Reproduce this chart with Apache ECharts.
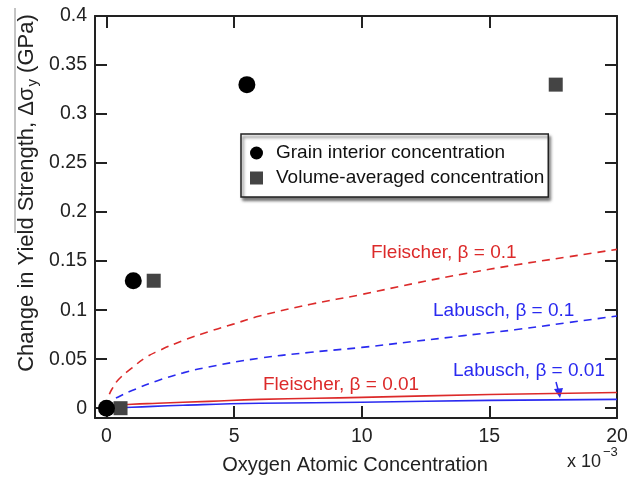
<!DOCTYPE html>
<html>
<head>
<meta charset="utf-8">
<script src="https://cdn.jsdelivr.net/npm/echarts@6/dist/echarts.min.js"></script>
<style>
html,body{margin:0;padding:0;background:#fff;}
#c{width:636px;height:479px;}
</style>
</head>
<body>
<div id="c"></div>
<script>
// ---- data (oxygen concentration in units of 1e-3, strength change in GPa) ----
const grainX = [0, 1.05, 5.5];
const grainY = [0, 0.13, 0.33];
const volX = [0.55, 1.85, 17.6];
const volY = [0, 0.13, 0.33];

const fleischer01X = [0, 0.1, 0.25, 0.5, 1, 1.5, 2, 3, 4, 5, 6, 8, 10, 12, 14, 16, 18, 20];
const fleischer01Y = [0, 0.013, 0.021, 0.03, 0.041, 0.051, 0.058, 0.069, 0.078, 0.086, 0.094, 0.106, 0.116, 0.127, 0.137, 0.146, 0.154, 0.162];
const labusch01X = [0, 0.25, 0.5, 1, 2, 3, 4, 6, 8, 10, 12, 14, 16, 18, 20];
const labusch01Y = [0, 0.008, 0.012, 0.018, 0.028, 0.036, 0.042, 0.051, 0.057, 0.062, 0.068, 0.074, 0.080, 0.087, 0.094];
const fleischer001X = [0, 0.5, 1, 2, 4, 6, 10, 15, 20];
const fleischer001Y = [0, 0.003, 0.004, 0.005, 0.007, 0.009, 0.011, 0.014, 0.016];
const labusch001X = [0, 1, 3, 6, 10, 15, 20];
const labusch001Y = [0, 0.001, 0.003, 0.005, 0.006, 0.008, 0.009];

const xTicks = [0, 5, 10, 15, 20];
const yTicks = [0, 0.05, 0.1, 0.15, 0.2, 0.25, 0.3, 0.35, 0.4];
const yTickLabels = ['0', '0.05', '0.1', '0.15', '0.2', '0.25', '0.3', '0.35', '0.4'];

const zip = (xs, ys) => xs.map((x, i) => [x, ys[i]]);

const RED = '#dc2a2a';
const BLUE = '#2a2af0';
const FRAME = '#222';
const FONT = 'Liberation Sans';

const chart = echarts.init(document.getElementById('c'), null, {renderer: 'canvas'});

const baseX = {
  type: 'value', min: -0.45, max: 20,
  splitLine: {show: false},
  axisLine: {show: true, onZero: false, lineStyle: {color: FRAME, width: 2}},
  axisTick: {show: true, inside: true, length: 12, customValues: xTicks, lineStyle: {color: FRAME, width: 2}},
};
const baseY = {
  type: 'value', min: -0.01, max: 0.4,
  splitLine: {show: false},
  axisLine: {show: true, onZero: false, lineStyle: {color: FRAME, width: 2}},
  axisTick: {show: true, inside: true, length: 12, customValues: yTicks, lineStyle: {color: FRAME, width: 2}},
};

const option = {
  backgroundColor: '#fff',
  animation: false,
  textStyle: {fontFamily: FONT},
  grid: {left: 95, right: 19, top: 16, bottom: 61, containLabel: false, outerBoundsMode: 'none'},
  xAxis: [
    Object.assign({}, baseX, {
      position: 'bottom',
      axisLabel: {show: true, customValues: xTicks, margin: 9, fontSize: 19.5, color: '#222', fontFamily: FONT}
    }),
    Object.assign({}, baseX, {position: 'top', axisLabel: {show: false}})
  ],
  yAxis: [
    Object.assign({}, baseY, {
      position: 'left',
      axisLabel: {show: true, customValues: yTicks, margin: 8, fontSize: 19.5, color: '#222', fontFamily: FONT,
        formatter: v => { const i = yTicks.findIndex(t => Math.abs(t - v) < 1e-9); return i >= 0 ? yTickLabels[i] : ''; }}
    }),
    Object.assign({}, baseY, {position: 'right', axisLabel: {show: false}})
  ],
  legend: {
    orient: 'vertical',
    left: 241, top: 134,
    padding: [8, 4, 8, 9],
    itemGap: 3,
    itemWidth: 13, itemHeight: 13,
    backgroundColor: '#fff',
    borderColor: '#222', borderWidth: 1.5, borderRadius: 0,
    shadowColor: 'rgba(0,0,0,0.55)', shadowBlur: 3, shadowOffsetX: 2, shadowOffsetY: 3,
    textStyle: {fontSize: 19, lineHeight: 22, color: '#111', fontFamily: FONT, padding: [0, 0, 0, 8]},
    data: ['Grain interior concentration', 'Volume-averaged concentration'],
    selectedMode: false
  },
  series: [
    {name: 'Fleischer β = 0.1', type: 'line', smooth: true, symbol: 'none', data: zip(fleischer01X, fleischer01Y),
      lineStyle: {color: RED, width: 1.6, type: [8, 6]}, z: 2},
    {name: 'Labusch β = 0.1', type: 'line', smooth: true, symbol: 'none', data: zip(labusch01X, labusch01Y),
      lineStyle: {color: BLUE, width: 1.6, type: [8, 6]}, z: 2},
    {name: 'Fleischer β = 0.01', type: 'line', smooth: true, symbol: 'none', data: zip(fleischer001X, fleischer001Y),
      lineStyle: {color: RED, width: 1.6}, z: 2},
    {name: 'Labusch β = 0.01', type: 'line', smooth: true, symbol: 'none', data: zip(labusch001X, labusch001Y),
      lineStyle: {color: BLUE, width: 1.6}, z: 2},
    {name: 'Grain interior concentration', type: 'scatter', symbol: 'circle', symbolSize: 17,
      data: zip(grainX, grainY), itemStyle: {color: '#000', opacity: 1}, z: 5},
    {name: 'Volume-averaged concentration', type: 'scatter', symbol: 'rect', symbolSize: 14,
      data: zip(volX, volY), itemStyle: {color: '#444', opacity: 1}, z: 4}
  ],
  graphic: [
    {type: 'line', shape: {x1: 15, y1: 8, x2: 15, y2: 233}, style: {stroke: '#888', lineWidth: 1}},
    {type: 'text', x: 27, y: 193, rotation: Math.PI / 2,
      style: {text: 'Change in Yield Strength, Δσ{sub|y} (GPa)', fontSize: 22, fontFamily: FONT, fill: '#222',
        align: 'center', verticalAlign: 'middle',
        rich: {sub: {fontSize: 15, fontFamily: FONT, fill: '#222', padding: [12, 0, 0, 1]}}}},
    {type: 'text', x: 355, y: 465,
      style: {text: 'Oxygen Atomic Concentration', fontSize: 20, fontFamily: FONT, fill: '#222', align: 'center', verticalAlign: 'middle'}},
    {type: 'text', x: 567, y: 462,
      style: {text: 'x 10', fontSize: 18, fontFamily: FONT, fill: '#222', align: 'left', verticalAlign: 'middle'}},
    {type: 'text', x: 603, y: 452,
      style: {text: '−3', fontSize: 13, fontFamily: FONT, fill: '#222', align: 'left', verticalAlign: 'middle'}},
    {type: 'text', x: 371, y: 253,
      style: {text: 'Fleischer, β = 0.1', fontSize: 19, fontFamily: FONT, fill: RED, align: 'left', verticalAlign: 'middle'}},
    {type: 'text', x: 433, y: 311,
      style: {text: 'Labusch, β = 0.1', fontSize: 19, fontFamily: FONT, fill: BLUE, align: 'left', verticalAlign: 'middle'}},
    {type: 'text', x: 263, y: 385,
      style: {text: 'Fleischer, β = 0.01', fontSize: 19, fontFamily: FONT, fill: RED, align: 'left', verticalAlign: 'middle'}},
    {type: 'text', x: 453, y: 371,
      style: {text: 'Labusch, β = 0.01', fontSize: 19, fontFamily: FONT, fill: BLUE, align: 'left', verticalAlign: 'middle'}},
    {type: 'line', shape: {x1: 556, y1: 382, x2: 559, y2: 393}, style: {stroke: BLUE, lineWidth: 1.5}},
    {type: 'polygon', shape: {points: [[554, 389], [563, 388], [560, 398]]}, style: {fill: BLUE}}
  ]
};
chart.setOption(option);
</script>
</body>
</html>
